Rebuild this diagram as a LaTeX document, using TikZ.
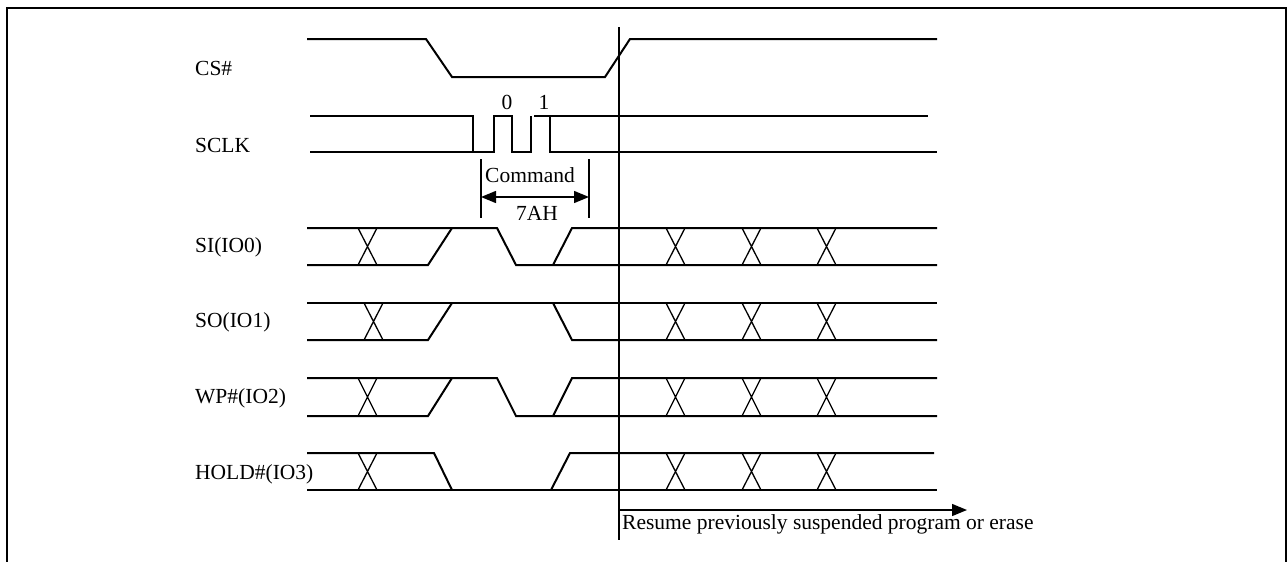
\documentclass[tikz,border=0pt]{standalone}
\usepackage{fontspec}
\setmainfont{Liberation Serif}
\usetikzlibrary{arrows.meta}
\begin{document}
\begin{tikzpicture}[x=1pt,y=-1pt,
  sig/.style={line width=2pt},
  xing/.style={line width=1.3pt},
  frame/.style={line width=2.6pt},
  lab/.style={anchor=west,inner sep=0pt,font=\fontsize{21.5}{25}\selectfont},
  txt/.style={inner sep=0pt,font=\fontsize{21.5}{25}\selectfont},
  thinl/.style={line width=1.4pt},
  >={Triangle[length=15pt,width=12pt]}]
\useasboundingbox (0,0) rectangle (1288,562);
\newcommand{\busX}[3]{\draw[xing] (#1,#2) -- ({#1+19},#3) (#1,#3) -- ({#1+19},#2);}
% frame
\draw[frame] (7,562) -- (7,8) -- (1286,8) -- (1286,562);
% labels
\node[lab] (lcs) at (195,68) {CS\#};
\node[lab] (lsclk) at (195,145) {SCLK};
\node[lab] (lsi) at (195,247) {SI(IO0)};
\node[lab] (lso) at (195,322) {SO(IO1)};
\node[lab] (lwp) at (195,398) {WP\#(IO2)};
\node[lab] (lhold) at (195,474) {HOLD\#(IO3)};
% CS#
\draw[sig] (307,39) -- (426,39) -- (452,77) -- (605,77) -- (630,39) -- (937,39);
% SCLK
\draw[sig] (310,116) -- (473,116) -- (473,152) -- (494,152) -- (494,116) -- (512,116) -- (512,152) -- (531,152) -- (531,116);
\draw[sig] (310,152) -- (473,152);
\draw[sig] (534,116) -- (928,116);
\draw[sig] (550,116) -- (550,152) -- (937,152);
\node[txt] (b0) at (507,102) {0};
\node[txt] (b1) at (544,102) {1};
% Command bracket
\coordinate (cl) at (481,197);
\coordinate (cr) at (589,197);
\draw[thinl] (481,159) -- (481,218);
\draw[thinl] (589,159) -- (589,218);
\draw[thinl,<->] (cl) -- (cr);
\node[txt] (cmd) at (530,175) {Command};
\node[txt] (hex) at (537,213) {7AH};
% SI(IO0)
\draw[sig] (307,228) -- (497,228) -- (516,265) -- (937,265);
\draw[sig] (307,265) -- (428,265) -- (452,228);
\draw[sig] (553,265) -- (572,228) -- (937,228);
\busX{358}{228}{265}\busX{666}{228}{265}\busX{742}{228}{265}\busX{817}{228}{265}
% SO(IO1)
\draw[sig] (307,303) -- (937,303);
\draw[sig] (553,303) -- (572,340) -- (937,340);
\draw[sig] (307,340) -- (428,340) -- (452,303);
\busX{364}{303}{340}\busX{666}{303}{340}\busX{742}{303}{340}\busX{817}{303}{340}
% WP#(IO2)
\draw[sig] (307,378) -- (497,378) -- (516,416) -- (937,416);
\draw[sig] (307,416) -- (428,416) -- (452,378);
\draw[sig] (553,416) -- (572,378) -- (937,378);
\busX{358}{378}{416}\busX{666}{378}{416}\busX{742}{378}{416}\busX{817}{378}{416}
% HOLD#(IO3)
\draw[sig] (307,453) -- (434,453) -- (452,490);
\draw[sig] (307,490) -- (937,490);
\draw[sig] (551,490) -- (570,453) -- (934,453);
\busX{358}{453}{490}\busX{666}{453}{490}\busX{742}{453}{490}\busX{817}{453}{490}
% resume marker
\coordinate (vtop) at (619,27);
\coordinate (vbot) at (619,540);
\draw[sig] (vtop) -- (vbot);
\coordinate (rs) at (619,510);
\coordinate (re) at (967,510);
\draw[thinl,->] (rs) -- (re);
\node[lab] (resume) at (622,524) {Resume previously suspended program or erase};
\end{tikzpicture}
\end{document}
